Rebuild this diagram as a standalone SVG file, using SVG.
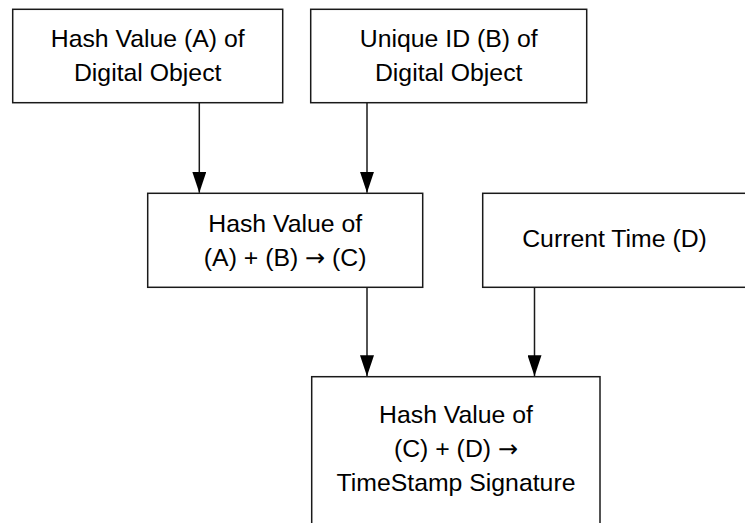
<svg xmlns="http://www.w3.org/2000/svg" width="745" height="523" viewBox="0 0 745 523">
<style>
.box{fill:#fff;stroke:#1a1a1a;stroke-width:1.5}
.t{font-family:"Liberation Sans",Arial,sans-serif;font-size:24.8px;fill:#000;text-anchor:middle}
.ar{font-family:"DejaVu Sans",sans-serif;font-size:24px}
.c{stroke:#1a1a1a;stroke-width:1.5;fill:none}
</style>
<defs>
<marker id="ah" markerUnits="userSpaceOnUse" markerWidth="14" markerHeight="21" refX="7" refY="21" orient="0" viewBox="0 0 14 21">
<path d="M0,0 L14,0 L7,21 Z" fill="#000"/>
</marker>
</defs>
<rect width="745" height="523" fill="#fff"/>
<g id="connectors">
<line class="c" x1="199.3" y1="102.7" x2="199.3" y2="192.8" marker-end="url(#ah)"/>
<line class="c" x1="367" y1="102.7" x2="367" y2="192.8" marker-end="url(#ah)"/>
<line class="c" x1="367" y1="287.3" x2="367" y2="376.2" marker-end="url(#ah)"/>
<line class="c" x1="534.5" y1="287.3" x2="534.5" y2="376.2" marker-end="url(#ah)"/>
</g>
<g id="nodeA">
<rect class="box" x="12.7" y="9.3" width="270" height="93.4"/>
<text class="t" x="147.7" y="47.3">Hash Value (A) of</text>
<text class="t" x="147.7" y="81.3">Digital Object</text>
</g>
<g id="nodeB">
<rect class="box" x="310.7" y="9.3" width="276" height="93.4"/>
<text class="t" x="448.7" y="47.3">Unique ID (B) of</text>
<text class="t" x="448.7" y="81.3">Digital Object</text>
</g>
<g id="nodeC">
<rect class="box" x="147.7" y="193.3" width="275" height="94"/>
<text class="t" x="285.2" y="231.7">Hash Value of</text>
<text class="t" x="285.2" y="265.7">(A) + (B) <tspan class="ar">→</tspan> (C)</text>
</g>
<g id="nodeD">
<rect class="box" x="482.7" y="193.3" width="280" height="94"/>
<text class="t" x="614.5" y="246.5">Current Time (D)</text>
</g>
<g id="nodeE">
<rect class="box" x="311.7" y="376.7" width="288.3" height="170"/>
<text class="t" x="456" y="423.3">Hash Value of</text>
<text class="t" x="456" y="457.3">(C) + (D) <tspan class="ar">→</tspan></text>
<text class="t" x="456" y="491.3">TimeStamp Signature</text>
</g>
</svg>
